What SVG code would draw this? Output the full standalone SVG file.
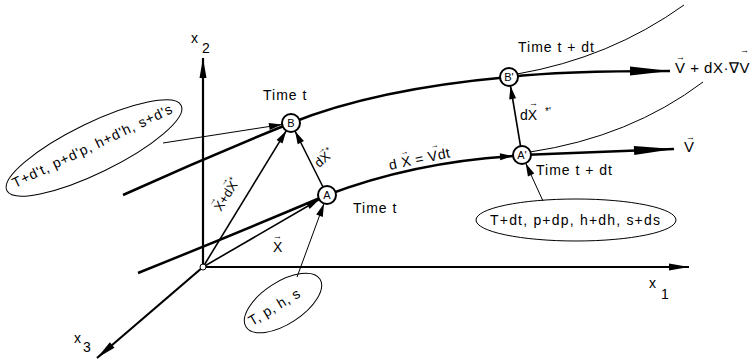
<svg xmlns="http://www.w3.org/2000/svg" width="751" height="362" viewBox="0 0 751 362">
<style>
text{font-family:"Liberation Sans",Arial,sans-serif;fill:#000}
.t{font-size:14px;letter-spacing:1px}
.lab{font-size:14px}
.v{font-size:9px;letter-spacing:0}
.n{font-size:11px;text-anchor:middle}
.ax{stroke:#000;stroke-width:2.2;fill:none}
.sl{stroke:#000;stroke-width:2.5;fill:none}
.vec{stroke:#000;stroke-width:1.6;fill:none}
.thin{stroke:#000;stroke-width:1;fill:none}
.node{fill:#fff;stroke:#000;stroke-width:2}
.ell{fill:none;stroke:#000;stroke-width:1}
</style>
<defs>
<marker id="sm" markerUnits="userSpaceOnUse" markerWidth="14" markerHeight="8" refX="13" refY="3.5" orient="auto" overflow="visible"><path d="M0,0 L13,3.5 L0,7 z" fill="#000"/></marker>
<marker id="big" markerUnits="userSpaceOnUse" markerWidth="40" markerHeight="9" refX="40" refY="4.5" orient="auto" overflow="visible"><path d="M0,0 L40,4.5 L0,9 z" fill="#000"/></marker>
<marker id="axm" markerUnits="userSpaceOnUse" markerWidth="20" markerHeight="7" refX="20" refY="3.5" orient="auto" overflow="visible"><path d="M0,0 L20,3.5 L0,7 z" fill="#000"/></marker>
</defs>

<g id="axes">
<path class="ax" d="M203,267 L203,58" marker-end="url(#axm)"/>
<path class="ax" d="M203,267 L689,267" marker-end="url(#axm)"/>
<path class="ax" d="M203,267 L97,358" marker-end="url(#axm)"/>
<text class="lab" x="191" y="43">x</text><text class="lab" x="202" y="53">2</text>
<text class="lab" x="649" y="288">x</text><text class="lab" x="661" y="299">1</text>
<text class="lab" x="74" y="343">x</text><text class="lab" x="83" y="352">3</text>
</g>

<g id="connectors">
<path class="sl" d="M123,195 Q207,157 291,123 Q375,89 509,77"/>
<path class="sl" d="M509,77 Q560,71 670,71" marker-end="url(#big)"/>
<path class="sl" d="M138,273 Q240,232 327,195 Q414,162 513,156" marker-end="url(#sm)"/>
<path class="sl" d="M522,155 L674,149" marker-end="url(#big)"/>
<path class="thin" d="M517,74 Q610,58 684,5"/>
<path class="thin" d="M530,152 Q630,137 703,82"/>
<path class="vec" d="M203,267 L319.2,199.5" marker-end="url(#sm)"/>
<path class="vec" d="M203,267 L286.3,130.7" marker-end="url(#sm)"/>
<path class="vec" d="M323,187 L295,131" marker-end="url(#sm)"/>
<path class="vec" d="M520.5,146 L510.5,86" marker-end="url(#sm)"/>
<path class="thin" d="M163,143 L282,124.5" marker-end="url(#sm)"/>
<path class="thin" d="M297,277 L324,203.5" marker-end="url(#sm)"/>
<path class="thin" d="M543,201 L525.7,163.2" marker-end="url(#sm)"/>
</g>

<g id="origin"><circle cx="203" cy="267" r="3" fill="#fff" stroke="#000" stroke-width="1"/></g>

<g id="nodeA"><circle class="node" cx="327" cy="195" r="9"/><text class="n" x="327" y="199">A</text></g>
<g id="nodeB"><circle class="node" cx="291" cy="123" r="9"/><text class="n" x="291" y="127">B</text></g>
<g id="nodeA2"><circle class="node" cx="522" cy="155" r="9"/><text class="n" x="522" y="159">A'</text></g>
<g id="nodeB2"><circle class="node" cx="509" cy="77" r="9"/><text class="n" x="509" y="81">B'</text></g>

<g id="state-B">
<ellipse class="ell" cx="94" cy="148" rx="97" ry="25" transform="rotate(-26 94 148)"/>
<g transform="translate(15,188) rotate(-25.5)">
<text class="lab" x="0" y="0" letter-spacing="0.8">T+d't, p+d'p, h+d'h, s+d's</text>
</g>
</g>
<g id="state-A">
<ellipse class="ell" cx="283" cy="303" rx="44" ry="21" transform="rotate(-33 283 303)"/>
<g transform="translate(252,326) rotate(-31)">
<text class="lab" x="0" y="0" letter-spacing="0.5">T, p, h, s</text>
</g>
</g>
<g id="state-A2">
<ellipse class="ell" cx="576" cy="220" rx="100" ry="21"/>
<text class="lab" x="490" y="225" letter-spacing="1.2">T+dt, p+dp,  h+dh, s+ds</text>
</g>

<g id="labels">
<text class="t" x="263" y="100">Time t</text>
<text class="t" x="353" y="213">Time t</text>
<text class="t" x="518" y="52">Time t + dt</text>
<text class="t" x="536" y="175">Time t + dt</text>
<text class="lab"><tspan x="273" y="252">X</tspan><tspan class="v" x="273" y="239">→</tspan></text>
<text class="lab"><tspan x="520" y="120">dX</tspan><tspan class="v" x="529" y="106">→</tspan><tspan x="545" y="115" font-size="10">*'</tspan></text>
<text style="font-size:15px"><tspan x="675" y="73" letter-spacing="0.5">V + dX·∇V</tspan><tspan class="v" x="676" y="60">→</tspan><tspan class="v" x="740" y="53">→</tspan></text>
<text style="font-size:15px"><tspan x="684" y="152">V</tspan><tspan class="v" x="686" y="140">→</tspan></text>
<g transform="translate(319,168) rotate(-40)">
<text style="font-size:13px"><tspan x="0" y="0">dX</tspan><tspan font-size="9" x="17" y="-5">*</tspan><tspan class="v" x="8.5" y="-10">→</tspan></text>
</g>
<g transform="translate(221,212) rotate(-58)">
<text style="font-size:13px"><tspan x="0" y="0">X+dX</tspan><tspan font-size="9" x="32" y="-5">*</tspan><tspan class="v" x="0" y="-11">→</tspan><tspan class="v" x="23" y="-11">→</tspan></text>
</g>
<g transform="translate(390,170) rotate(-12)">
<text class="lab"><tspan x="0" y="0" letter-spacing="0.5">d X = Vdt</tspan><tspan class="v" x="13" y="-12">→</tspan><tspan class="v" x="44" y="-12">→</tspan></text>
</g>
</g>
</svg>
